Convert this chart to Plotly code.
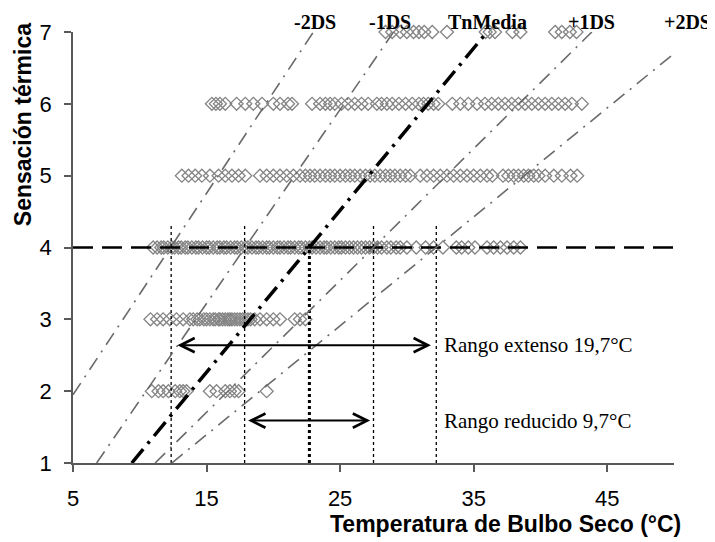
import plotly.graph_objects as go

# ---- data ----
Y_LEVELS = [2, 3, 4, 5, 6, 7]
X_Y2 = [10.9, 11.4, 11.75, 12.15, 12.65, 13.0, 13.25, 13.5, 15.25, 15.75, 16.4, 16.75, 17.1, 17.4, 19.5]
X_Y3 = [10.8, 11.3, 11.75, 12.25, 12.75, 13.25, 13.75, 14.0, 14.3, 14.5, 14.8, 15.0, 15.25, 15.5, 15.65,
        15.9, 16.0, 16.2, 16.4, 16.6, 16.75, 16.9, 17.1, 17.3, 17.5, 17.7, 17.9, 18.1, 18.3, 18.6, 19.0,
        19.5, 20.0, 20.5, 21.6, 22.0, 22.4]
X_Y4 = [11.0, 11.3, 11.6, 11.8, 12.1, 12.4, 12.6, 12.9, 13.1, 13.4, 13.6, 13.9, 14.2, 14.4, 14.7, 15.0,
        15.2, 15.5, 15.8, 16.0, 16.3, 16.5, 16.8, 17.1, 17.3, 17.6, 17.9, 18.1, 18.4, 18.7, 18.9, 19.2,
        19.5, 19.7, 20.0, 20.3, 20.5, 20.8, 21.1, 21.3, 21.6, 21.9, 22.1, 22.4, 22.7, 22.9, 23.2, 23.5,
        23.8, 24.0, 24.3, 24.6, 24.9, 25.1, 25.4, 25.7, 26.0, 26.3, 26.6, 26.9, 27.2, 27.5, 27.8, 28.1,
        28.5, 28.8, 29.2, 29.5, 30.0, 30.7, 31.4, 32.0, 32.7, 33.7, 34.1, 34.6, 35.1, 36.0, 36.5, 37.0,
        37.5, 38.0, 38.5]
X_Y5 = [13.15, 13.65, 14.15, 14.65, 15.25, 15.9, 16.4, 16.9, 17.4, 17.9, 19.0, 19.5, 20.0, 20.5, 21.0,
        21.5, 22.0, 22.4, 22.75, 23.1, 23.5, 23.9, 24.25, 24.6, 25.0, 25.4, 25.75, 26.1, 26.5, 26.9,
        27.25, 27.6, 28.0, 28.4, 28.75, 29.1, 29.5, 29.9, 30.25, 31.0, 31.5, 32.0, 32.5, 33.0, 33.5,
        34.0, 34.5, 35.0, 35.5, 36.0, 36.4, 37.2, 37.6, 38.0, 38.35, 38.75, 39.1, 39.5, 39.85, 40.35,
        41.0, 41.6, 42.25, 42.75]
X_Y6 = [15.4, 15.7, 16.0, 16.4, 17.25, 17.9, 18.5, 19.15, 20.0, 20.5, 21.1, 21.4, 22.9, 23.5, 23.9,
        24.25, 24.6, 25.1, 25.6, 26.1, 26.6, 27.1, 27.75, 28.1, 28.5, 28.9, 29.4, 29.9, 30.4, 30.9,
        31.25, 31.6, 32.0, 32.35, 33.4, 34.0, 34.6, 35.25, 35.85, 36.35, 36.85, 37.35, 37.85, 38.35,
        38.85, 39.35, 39.85, 40.35, 40.85, 41.35, 41.85, 42.35, 43.1]
X_Y7 = [28.4, 28.9, 29.5, 30.0, 30.5, 30.9, 31.3, 31.9, 33.0, 35.9, 36.2, 36.6, 37.9, 38.5, 41.1, 41.6,
        42.2, 42.7]

LINE_NAMES = ["-2DS", "-1DS", "TnMedia", "+1DS", "+2DS"]
LINE_X0 = [5.0, 6.77, 9.4, 11.15, 12.4]
LINE_Y0 = [1.95, 1.0, 1.0, 1.0, 1.0]
LINE_X1 = [23.0, 29.0, 36.0, 43.85, 50.0]
LINE_Y1 = [7.0, 7.0, 7.0, 7.0, 6.70]
LABEL_X = [23.1, 28.75, 36.0, 43.8, 51.0]

NEUTRAL_Y = 4
VLINE_X = [12.35, 17.85, 22.7, 27.5, 32.2]
VLINE_TOP = [4.3, 4.3, 4.05, 4.3, 4.3]

RANGE_TEXT = ["Rango extenso 19,7°C", "Rango reducido 9,7°C"]
RANGE_X0 = [12.7, 18.0]
RANGE_X1 = [31.8, 27.25]
RANGE_Y = [2.64, 1.59]
RANGE_TEXT_X = 32.6

X_RANGE = [5, 50]
Y_RANGE = [1, 7]

SERIF = "Liberation Serif, Times New Roman, serif"
SANS = "Liberation Sans, Arial, sans-serif"

fig = go.Figure()

# scatter points
xs_all = [X_Y2, X_Y3, X_Y4, X_Y5, X_Y6, X_Y7]
for yl, xs in zip(Y_LEVELS, xs_all):
    fig.add_trace(go.Scatter(
        x=xs, y=[yl] * len(xs), mode="markers",
        marker=dict(symbol="diamond-open", size=10, color="#858585", line=dict(width=1.3, color="#858585")),
        showlegend=False, hoverinfo="skip", cliponaxis=False))

# horizontal neutral line
fig.add_trace(go.Scatter(x=X_RANGE, y=[NEUTRAL_Y, NEUTRAL_Y], mode="lines",
                         line=dict(color="black", width=2.5, dash="20px,9px"),
                         showlegend=False, hoverinfo="skip"))

# vertical dotted lines
for i, (vx, top) in enumerate(zip(VLINE_X, VLINE_TOP)):
    w = 3 if i == 2 else 1.3
    fig.add_trace(go.Scatter(x=[vx, vx], y=[Y_RANGE[0], top], mode="lines",
                             line=dict(color="black", width=w, dash="dot"),
                             showlegend=False, hoverinfo="skip"))

# regression / SD lines
for i, name in enumerate(LINE_NAMES):
    if name == "TnMedia":
        ln = dict(color="black", width=3.5, dash="18px,7px,3px,7px")
    else:
        ln = dict(color="#6a6a6a", width=1.6, dash="14px,7px,2px,7px")
    fig.add_trace(go.Scatter(x=[LINE_X0[i], LINE_X1[i]], y=[LINE_Y0[i], LINE_Y1[i]], mode="lines",
                             line=ln, showlegend=False, hoverinfo="skip"))

annotations = []
xspan = X_RANGE[1] - X_RANGE[0]
for name, lx in zip(LINE_NAMES, LABEL_X):
    annotations.append(dict(x=(lx - X_RANGE[0]) / xspan, y=1.0, xref="paper", yref="paper",
                            text="<b>%s</b>" % name, showarrow=False, xanchor="center", yanchor="middle",
                            yshift=10, font=dict(family=SERIF, size=20, color="black")))

for txt, x0, x1, yv in zip(RANGE_TEXT, RANGE_X0, RANGE_X1, RANGE_Y):
    annotations.append(dict(x=x1, y=yv, ax=x0, ay=yv, xref="x", yref="y", axref="x", ayref="y",
                            text="", showarrow=True, arrowhead=5, startarrowhead=5, arrowside="end+start",
                            arrowsize=1.4, startarrowsize=1.4, arrowwidth=2, arrowcolor="black"))
    annotations.append(dict(x=RANGE_TEXT_X, y=yv, xref="x", yref="y", text=txt, showarrow=False,
                            xanchor="left", font=dict(family=SERIF, size=21, color="black")))

annotations.append(dict(x=0.719, y=-0.142, xref="paper", yref="paper", xanchor="center", yanchor="middle",
                        text="<b>Temperatura de Bulbo Seco (°C)</b>", showarrow=False,
                        font=dict(family=SANS, size=23, color="black")))
annotations.append(dict(x=-0.083, y=0.784, xref="paper", yref="paper", xanchor="center", yanchor="middle",
                        text="<b>Sensación térmica</b>", showarrow=False, textangle=-90,
                        font=dict(family=SANS, size=23, color="black")))

axis_common = dict(showgrid=False, zeroline=False, automargin=False,
                   showline=True, linecolor="#595959", linewidth=1.5, ticks="outside", ticklen=7,
                   tickcolor="#595959", tickwidth=1.5, tickfont=dict(family=SANS, size=22, color="black"),
                   ticklabelstandoff=8)

# the page body adds an 8px offset, so the figure is 8px smaller than the window
fig.update_layout(
    template="none",
    width=707, height=534,
    margin=dict(l=65, r=41, t=24, b=79, autoexpand=False),
    paper_bgcolor="white", plot_bgcolor="white",
    annotations=annotations,
    xaxis=dict(range=X_RANGE, tickvals=[5, 15, 25, 35, 45], **axis_common),
    yaxis=dict(range=Y_RANGE, dtick=1, **axis_common),
)

fig.write_html("out.html")
